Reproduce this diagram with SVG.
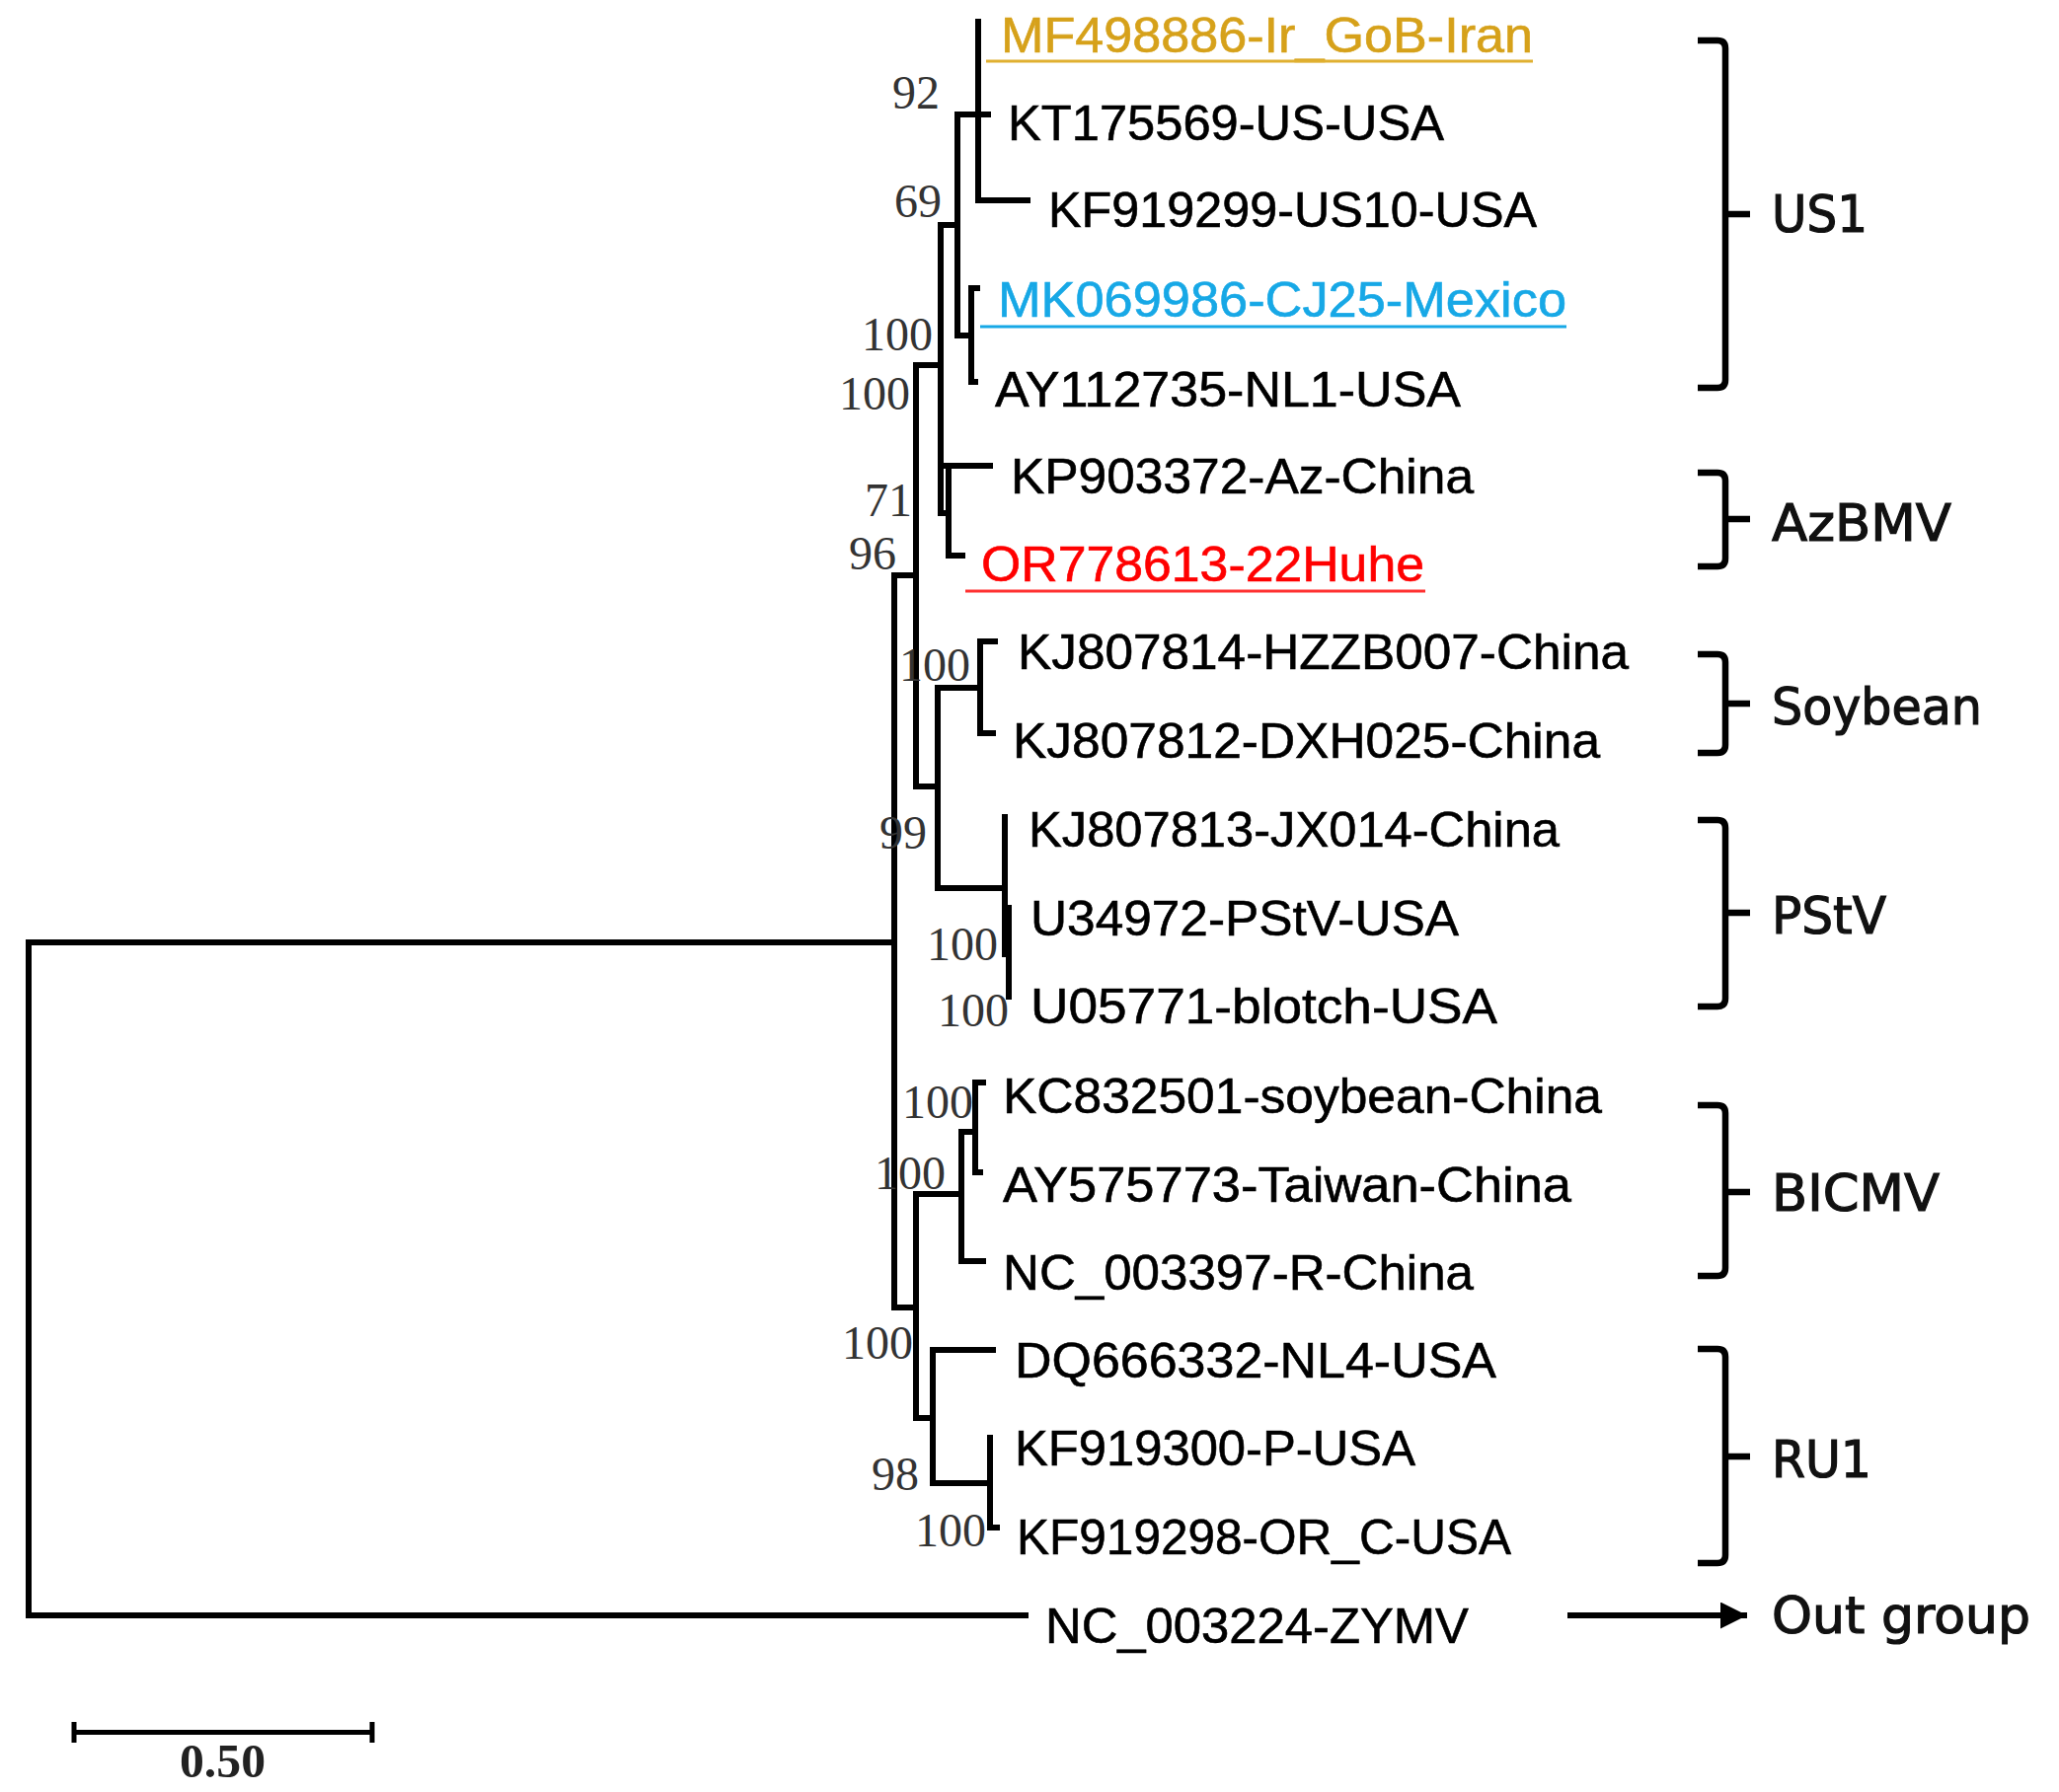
<svg xmlns="http://www.w3.org/2000/svg" width="2086" height="1816" viewBox="0 0 2086 1816">
<style>
.br{fill:none;stroke:#000;stroke-width:6;stroke-linecap:square;stroke-linejoin:miter}
.tip{font-family:"Liberation Sans",Arial,sans-serif;font-size:50px;fill:#000;stroke:#000;stroke-width:0.6}
.bs{font-family:"Liberation Serif","Times New Roman",serif;font-size:48px;fill:#333}
.cl{font-family:"DejaVu Sans",Verdana,sans-serif;font-size:51px;fill:#111;stroke:#111;stroke-width:1.2}
.bk{fill:none;stroke:#000;stroke-width:6.5}
.ul{stroke-width:3;fill:none}
</style>
<defs>
<marker id="ah" viewBox="0 0 10 10" refX="10" refY="5" markerWidth="5" markerHeight="4.5" markerUnits="strokeWidth" orient="auto">
<path d="M0,0 L10,5 L0,10 Z" fill="#000"/>
</marker>
</defs>
<rect width="2086" height="1816" fill="#fff"/>

<g id="connectors">
<path class="br" d="M906,955 H29 V1637 H1039"/>
<path class="br" d="M906,583 V1325"/>
<path class="br" d="M906,583 H928 M928,370 V797"/>
<path class="br" d="M928,370 H953 M953,228 V520"/>
<path class="br" d="M953,228 H970 M970,116 V340"/>
<path class="br" d="M970,116 H1001 M991,22 V203 H1041"/>
<path class="br" d="M970,340 H984 M990,292 H984 V387 H988"/>
<path class="br" d="M953,520 H961 M961,472 V563 H975 M953,472 H1003"/>
<path class="br" d="M928,797 H950 M950,697 V900"/>
<path class="br" d="M950,697 H993 M1008,650 H993 V743 H1006"/>
<path class="br" d="M950,900 H1018 M1018,828 V967 H1022 M1022,920 V1010"/>
<path class="br" d="M906,1325 H928 M928,1210 V1437"/>
<path class="br" d="M928,1210 H974 M974,1147 V1278 H996"/>
<path class="br" d="M974,1147 H988 M996,1097 H988 V1188 H993"/>
<path class="br" d="M928,1437 H945 M1006,1368 H945 V1503 H1003"/>
<path class="br" d="M1003,1457 V1548 H1010"/>
</g>

<g id="bootstrap">
<text class="bs" x="904" y="110">92</text>
<text class="bs" x="906" y="220">69</text>
<text class="bs" x="873" y="355">100</text>
<text class="bs" x="850" y="415">100</text>
<text class="bs" x="876" y="523">71</text>
<text class="bs" x="860" y="577">96</text>
<text class="bs" x="911" y="690">100</text>
<text class="bs" x="891" y="860">99</text>
<text class="bs" x="939" y="973">100</text>
<text class="bs" x="950" y="1040">100</text>
<text class="bs" x="914" y="1133">100</text>
<text class="bs" x="886" y="1205">100</text>
<text class="bs" x="853" y="1377">100</text>
<text class="bs" x="883" y="1510">98</text>
<text class="bs" x="927" y="1567">100</text>
</g>

<g id="tip-MF498886">
<text class="tip" x="1014" y="53" style="fill:#D6A11A;stroke:#D6A11A" textLength="539" lengthAdjust="spacingAndGlyphs">MF498886-Ir_GoB-Iran</text>
<line class="ul" x1="999" y1="62" x2="1553" y2="62" stroke="#E0B030"/>
</g>
<g id="tip-KT175569"><text class="tip" x="1021" y="142" textLength="442" lengthAdjust="spacingAndGlyphs">KT175569-US-USA</text></g>
<g id="tip-KF919299"><text class="tip" x="1062" y="230" textLength="495" lengthAdjust="spacingAndGlyphs">KF919299-US10-USA</text></g>
<g id="tip-MK069986">
<text class="tip" x="1011" y="321" style="fill:#17A8E6;stroke:#17A8E6" textLength="576" lengthAdjust="spacingAndGlyphs">MK069986-CJ25-Mexico</text>
<line class="ul" x1="993" y1="331" x2="1587" y2="331" stroke="#17A8E6"/>
</g>
<g id="tip-AY112735"><text class="tip" x="1008" y="412" textLength="472" lengthAdjust="spacingAndGlyphs">AY112735-NL1-USA</text></g>
<g id="tip-KP903372"><text class="tip" x="1024" y="500" textLength="469" lengthAdjust="spacingAndGlyphs">KP903372-Az-China</text></g>
<g id="tip-OR778613">
<text class="tip" x="994" y="589" style="fill:#FF0000;stroke:#FF0000" textLength="449" lengthAdjust="spacingAndGlyphs">OR778613-22Huhe</text>
<line class="ul" x1="978" y1="599" x2="1444" y2="599" stroke="#FF3030"/>
</g>
<g id="tip-KJ807814"><text class="tip" x="1031" y="678" textLength="619" lengthAdjust="spacingAndGlyphs">KJ807814-HZZB007-China</text></g>
<g id="tip-KJ807812"><text class="tip" x="1026" y="768" textLength="595" lengthAdjust="spacingAndGlyphs">KJ807812-DXH025-China</text></g>
<g id="tip-KJ807813"><text class="tip" x="1042" y="858" textLength="538" lengthAdjust="spacingAndGlyphs">KJ807813-JX014-China</text></g>
<g id="tip-U34972"><text class="tip" x="1044" y="948" textLength="434" lengthAdjust="spacingAndGlyphs">U34972-PStV-USA</text></g>
<g id="tip-U05771"><text class="tip" x="1044" y="1037" textLength="473" lengthAdjust="spacingAndGlyphs">U05771-blotch-USA</text></g>
<g id="tip-KC832501"><text class="tip" x="1016" y="1128" textLength="607" lengthAdjust="spacingAndGlyphs">KC832501-soybean-China</text></g>
<g id="tip-AY575773"><text class="tip" x="1016" y="1218" textLength="576" lengthAdjust="spacingAndGlyphs">AY575773-Taiwan-China</text></g>
<g id="tip-NC003397"><text class="tip" x="1016" y="1307" textLength="477" lengthAdjust="spacingAndGlyphs">NC_003397-R-China</text></g>
<g id="tip-DQ666332"><text class="tip" x="1028" y="1396" textLength="488" lengthAdjust="spacingAndGlyphs">DQ666332-NL4-USA</text></g>
<g id="tip-KF919300"><text class="tip" x="1028" y="1485" textLength="406" lengthAdjust="spacingAndGlyphs">KF919300-P-USA</text></g>
<g id="tip-KF919298"><text class="tip" x="1030" y="1575" textLength="501" lengthAdjust="spacingAndGlyphs">KF919298-OR_C-USA</text></g>
<g id="tip-NC003224"><text class="tip" x="1059" y="1665" textLength="429" lengthAdjust="spacingAndGlyphs">NC_003224-ZYMV</text></g>

<g id="clade-US1">
<path class="bk" d="M1720,41 H1740 Q1748,41 1748,49 V385 Q1748,393 1740,393 H1720 M1748,217 H1773"/>
<text class="cl" x="1795" y="235" textLength="97" lengthAdjust="spacingAndGlyphs">US1</text>
</g>
<g id="clade-AzBMV">
<path class="bk" d="M1720,479 H1740 Q1748,479 1748,487 V566 Q1748,574 1740,574 H1720 M1748,526 H1773"/>
<text class="cl" x="1795" y="548" textLength="182" lengthAdjust="spacingAndGlyphs">AzBMV</text>
</g>
<g id="clade-Soybean">
<path class="bk" d="M1720,663 H1740 Q1748,663 1748,671 V755 Q1748,763 1740,763 H1720 M1748,713 H1773"/>
<text class="cl" x="1795" y="734" textLength="213" lengthAdjust="spacingAndGlyphs">Soybean</text>
</g>
<g id="clade-PStV">
<path class="bk" d="M1720,831 H1740 Q1748,831 1748,839 V1012 Q1748,1020 1740,1020 H1720 M1748,925 H1773"/>
<text class="cl" x="1795" y="946" textLength="116" lengthAdjust="spacingAndGlyphs">PStV</text>
</g>
<g id="clade-BICMV">
<path class="bk" d="M1720,1120 H1740 Q1748,1120 1748,1128 V1285 Q1748,1293 1740,1293 H1720 M1748,1208 H1773"/>
<text class="cl" x="1795" y="1227" textLength="170" lengthAdjust="spacingAndGlyphs">BICMV</text>
</g>
<g id="clade-RU1">
<path class="bk" d="M1720,1367 H1740 Q1748,1367 1748,1375 V1576 Q1748,1584 1740,1584 H1720 M1748,1476 H1773"/>
<text class="cl" x="1795" y="1497" textLength="101" lengthAdjust="spacingAndGlyphs">RU1</text>
</g>
<g id="outgroup">
<line x1="1588" y1="1637" x2="1770" y2="1637" stroke="#000" stroke-width="6" marker-end="url(#ah)"/>
<text class="cl" x="1795" y="1655" textLength="262" lengthAdjust="spacingAndGlyphs">Out group</text>
</g>

<g id="scalebar">
<path d="M75,1755.5 H377 M75,1745 V1766 M377,1745 V1766" stroke="#000" stroke-width="5" fill="none"/>
<text x="182" y="1801" font-family="'Liberation Serif','Times New Roman',serif" font-size="48" font-weight="bold" fill="#222" textLength="87" lengthAdjust="spacingAndGlyphs">0.50</text>
</g>
</svg>
